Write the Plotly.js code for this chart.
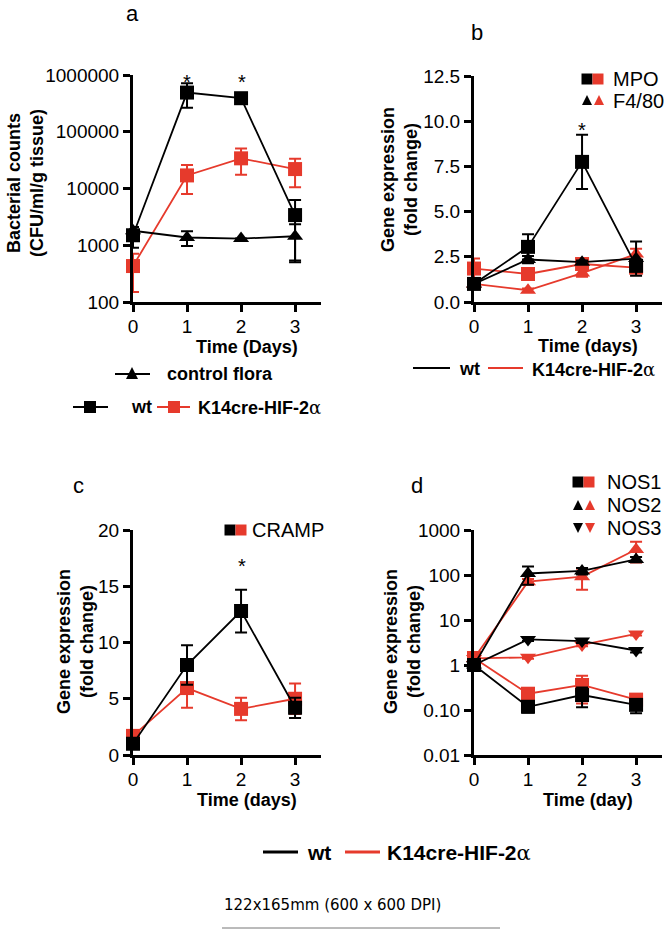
<!DOCTYPE html>
<html>
<head>
<meta charset="utf-8">
<script src="https://cdn.plot.ly/plotly-3.0.1.min.js"></script>
<style>
  body { margin: 0; background: #fff; }
  #fig { width: 671px; height: 946px; }
</style>
</head>
<body>
<div id="fig"></div>
<script>
// time points
var days = [0, 1, 2, 3];

// panel a - bacterial counts
var aWt = [1500, 490000, 390000, 3400];
var aWtErr = [600, 225000, 80000, 2900];
var aKo = [430, 17000, 34000, 22000];
var aKoErr = [280, 9000, 16500, 11500];
var aCtrl = [1800, 1370, 1310, 1440];
var aCtrlErr = [300, 400, 0, 900];

// panel b - MPO / F4/80
var mpoWt = [1.0, 3.05, 7.75, 2.0];
var mpoWtErr = [0, 0.7, 1.5, 0.3];
var f480Wt = [1.0, 2.35, 2.2, 2.4];
var f480WtErr = [0, 0.2, 0.1, 0.95];
var mpoKo = [1.85, 1.55, 2.1, 1.9];
var mpoKoErr = [0.55, 0.2, 0.2, 0.3];
var f480Ko = [1.0, 0.65, 1.6, 2.65];
var f480KoErr = [0, 0.1, 0.2, 0.3];

// panel c - CRAMP
var crampWt = [1.0, 8.0, 12.8, 4.2];
var crampWtErr = [0.3, 1.75, 1.9, 0.9];
var crampKo = [1.7, 5.95, 4.1, 5.0];
var crampKoErr = [0.3, 1.75, 1.0, 1.35];

// panel d - NOS
var nos1Wt = [1, 0.118, 0.215, 0.13];
var nos1WtErr = [0.05, 0.03, 0.1, 0.045];
var nos1Ko = [1.43, 0.23, 0.36, 0.17];
var nos1KoErr = [0.2, 0.04, 0.22, 0.03];
var nos2Wt = [1, 108, 123, 222];
var nos2WtErr = [0.1, 47, 20, 30];
var nos2Ko = [1.4, 71, 92, 370];
var nos2KoErr = [0.2, 10, 45, 180];
var nos3Wt = [1, 3.7, 3.4, 2.1];
var nos3WtErr = [0.1, 0.3, 0.3, 0.2];
var nos3Ko = [1.4, 1.48, 2.8, 4.9];
var nos3KoErr = [0.2, 0.1, 0.2, 0.4];

var RED = "#e63a2c";
var BLK = "#000000";
var W = 671, H = 946;
function px(x) { return x / W; }
function py(y) { return 1 - y / H; }

function series(xa, ya, y, err, color, symbol) {
  return {
    x: days, y: y, xaxis: xa, yaxis: ya,
    type: "scatter", mode: "lines+markers", cliponaxis: false,
    line: { color: color, width: 1.8 },
    marker: { color: color, symbol: symbol, size: 14 },
    error_y: { type: "data", array: err, visible: true, color: color, thickness: 2, width: 6 }
  };
}

var data = [
  // a
  series("x", "y", aKo, aKoErr, RED, "square"),
  series("x", "y", aCtrl, aCtrlErr, BLK, "triangle-up"),
  series("x", "y", aWt, aWtErr, BLK, "square"),
  // b
  series("x2", "y2", f480Ko, f480KoErr, RED, "triangle-up"),
  series("x2", "y2", mpoKo, mpoKoErr, RED, "square"),
  series("x2", "y2", f480Wt, f480WtErr, BLK, "triangle-up"),
  series("x2", "y2", mpoWt, mpoWtErr, BLK, "square"),
  // c
  series("x3", "y3", crampKo, crampKoErr, RED, "square"),
  series("x3", "y3", crampWt, crampWtErr, BLK, "square"),
  // d
  series("x4", "y4", nos1Ko, nos1KoErr, RED, "square"),
  series("x4", "y4", nos2Ko, nos2KoErr, RED, "triangle-up"),
  series("x4", "y4", nos3Ko, nos3KoErr, RED, "triangle-down"),
  series("x4", "y4", nos1Wt, nos1WtErr, BLK, "square"),
  series("x4", "y4", nos2Wt, nos2WtErr, BLK, "triangle-up"),
  series("x4", "y4", nos3Wt, nos3WtErr, BLK, "triangle-down")
];

var tickFont = { family: "Liberation Sans, Arial, sans-serif", size: 19, color: "#000" };

function xAxis(x0, x1, anchor) {
  return {
    domain: [px(x0), px(x1)], anchor: anchor, range: [0, 3.48],
    tickvals: days, ticktext: ["0", "1", "2", "3"],
    showline: true, linewidth: 3, linecolor: "#000", mirror: false,
    ticks: "outside", ticklen: 7, tickwidth: 3, tickcolor: "#000",
    ticklabelstandoff: -2,
    showgrid: false, zeroline: false, tickfont: tickFont, fixedrange: true
  };
}
function yAxis(y0, y1, anchor, extra) {
  var ax = {
    domain: [py(y1), py(y0)], anchor: anchor,
    showline: true, linewidth: 3, linecolor: "#000",
    ticks: "outside", ticklen: 7, tickwidth: 3, tickcolor: "#000",
    showgrid: false, zeroline: false, tickfont: tickFont, fixedrange: true
  };
  for (var k in extra) ax[k] = extra[k];
  return ax;
}

var bold = { family: "Liberation Sans, Arial, sans-serif", size: 18, color: "#000", weight: "bold" };
var plain = { family: "Liberation Sans, Arial, sans-serif", size: 20, color: "#000" };
var letter = { family: "Liberation Sans, Arial, sans-serif", size: 22, color: "#000" };
var big = { family: "Liberation Sans, Arial, sans-serif", size: 21, color: "#000", weight: "bold" };
var alpha = '<span style="font-family:DejaVu Serif;font-weight:normal">α</span>';

function txt(x, y, text, font, xanchor, angle) {
  return {
    xref: "paper", yref: "paper", x: px(x), y: py(y), text: text,
    showarrow: false, font: font, xanchor: xanchor || "center", yanchor: "middle",
    textangle: angle || 0
  };
}

var annotations = [
  // panel letters
  txt(132, 13, "a", letter), txt(477, 32, "b", letter),
  txt(78, 485, "c", letter), txt(417, 485, "d", letter),
  // stars
  txt(187, 82, "*", plain), txt(242, 82, "*", plain),
  txt(582, 130, "*", plain), txt(242, 566, "*", plain),
  // y titles
  txt(26, 183, "Bacterial counts<br>(CFU/ml/g tissue)", bold, "center", -90),
  txt(400, 180, "Gene expression<br>(fold change)", bold, "center", -90),
  txt(75, 642, "Gene expression<br>(fold change)", bold, "center", -90),
  txt(402, 642, "Gene expression<br>(fold change)", bold, "center", -90),
  // x titles
  txt(247, 347, "Time (Days)", bold),
  txt(588, 346, "Time (days)", bold),
  txt(247, 800, "Time (days)", bold),
  txt(588, 800, "Time (day)", bold),
  // legend a
  txt(165, 374, "control flora", bold, "left"),
  txt(129, 407, "wt", bold, "left"),
  txt(196, 407, "K14cre-HIF-2" + alpha, bold, "left"),
  // legend b
  txt(457, 369, "wt", bold, "left"),
  txt(530, 369, "K14cre-HIF-2" + alpha, bold, "left"),
  // marker keys
  txt(611, 79, "MPO", plain, "left"),
  txt(611, 101, "F4/80", plain, "left"),
  txt(250, 530, "CRAMP", plain, "left"),
  txt(605, 482, "NOS1", plain, "left"),
  txt(605, 505, "NOS2", plain, "left"),
  txt(605, 528, "NOS3", plain, "left"),
  // bottom legend
  txt(305, 852, "wt", big, "left"),
  txt(385, 853, "K14cre-HIF-2" + alpha, big, "left"),
  // footer
  txt(222, 905, "122x165mm (600 x 600 DPI)", { family: "DejaVu Sans, Verdana", size: 15, color: "#000" }, "left")
];

function seg(x0, x1, y, color, w) {
  return { type: "line", xref: "paper", yref: "paper", x0: px(x0), x1: px(x1), y0: py(y), y1: py(y),
           line: { color: color, width: w || 2 } };
}
function sq(cx, cy, s, color) {
  return { type: "rect", xref: "paper", yref: "paper",
           x0: px(cx - s / 2), x1: px(cx + s / 2), y0: py(cy + s / 2), y1: py(cy - s / 2),
           fillcolor: color, line: { width: 0 } };
}
function tri(cx, cy, s, color, up) {
  var t = up ? cy - s / 2 : cy + s / 2, b = up ? cy + s / 2 : cy - s / 2;
  var path = "M" + px(cx - s / 2) + "," + py(b) + " L" + px(cx + s / 2) + "," + py(b) +
             " L" + px(cx) + "," + py(t) + " Z";
  return { type: "path", xref: "paper", yref: "paper", path: path, fillcolor: color, line: { width: 0 } };
}

var shapes = [
  // legend a
  seg(115, 150, 374, BLK), tri(132, 373, 12, BLK, true),
  seg(73, 108, 407, BLK), sq(90, 407, 12, BLK),
  seg(157, 190, 407, RED), sq(174, 407, 12, RED),
  // legend b
  seg(413, 450, 368, BLK), seg(488, 523, 368, RED),
  // marker keys b
  sq(587, 79, 11, BLK), sq(598, 79, 11, RED),
  tri(587, 100, 10, BLK, true), tri(599, 100, 10, RED, true),
  // key c
  sq(230, 530, 11, BLK), sq(241, 530, 11, RED),
  // keys d
  sq(578, 482, 11, BLK), sq(589, 482, 11, RED),
  tri(578, 505, 10, BLK, true), tri(590, 505, 10, RED, true),
  tri(578, 528, 10, BLK, false), tri(590, 528, 10, RED, false),
  // bottom legend
  seg(263, 298, 852, BLK, 3), seg(345, 380, 852, RED, 3),
  // footer rule
  seg(222, 500, 928, "#777", 1)
];

var layout = {
  width: W, height: H,
  margin: { l: 0, r: 0, t: 0, b: 0 },
  paper_bgcolor: "#fff", plot_bgcolor: "rgba(0,0,0,0)",
  showlegend: false,
  xaxis: xAxis(133, 321, "y"),
  yaxis: yAxis(75, 302, "x", { type: "log", range: [2, 6],
    tickvals: [100, 1000, 10000, 100000, 1000000],
    ticktext: ["100", "1000", "10000", "100000", "1000000"] }),
  xaxis2: xAxis(474, 662, "y2"),
  yaxis2: yAxis(76, 302, "x2", { range: [0, 12.5], tickvals: [0, 2.5, 5, 7.5, 10, 12.5],
    ticktext: ["0.0", "2.5", "5.0", "7.5", "10.0", "12.5"] }),
  xaxis3: xAxis(133, 321, "y3"),
  yaxis3: yAxis(530, 755, "x3", { range: [0, 20], tickvals: [0, 5, 10, 15, 20],
    ticktext: ["0", "5", "10", "15", "20"] }),
  xaxis4: xAxis(474, 662, "y4"),
  yaxis4: yAxis(530, 755, "x4", { type: "log", range: [-2, 3],
    tickvals: [0.01, 0.1, 1, 10, 100, 1000],
    ticktext: ["0.01", "0.10", "1", "10", "100", "1000"] }),
  annotations: annotations,
  shapes: shapes
};

Plotly.newPlot("fig", data, layout, { staticPlot: true });
</script>
</body>
</html>
